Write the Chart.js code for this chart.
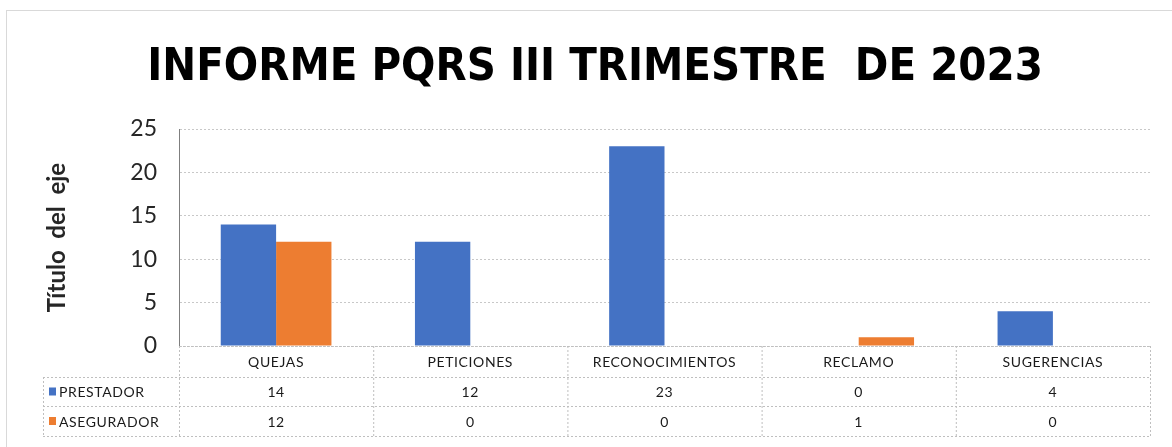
<!DOCTYPE html>
<html>
<head>
<meta charset="utf-8">
<script src="https://cdn.jsdelivr.net/npm/chart.js@4"></script>
<style>
  html, body { margin: 0; padding: 0; background: #fff; }
  #frame { position: absolute; left: 6px; top: 10px; width: 1180px; height: 450px; border: 1px solid #d9d9d9; }
  canvas { position: absolute; left: 0; top: 0; }
</style>
</head>
<body>
<div id="frame"></div>
<canvas id="pqrsChart" width="1172" height="447"></canvas>
<script>
// Data
const categories = ['QUEJAS', 'PETICIONES', 'RECONOCIMIENTOS', 'RECLAMO', 'SUGERENCIAS'];
const prestador = [14, 12, 23, 0, 4];
const asegurador = [12, 0, 0, 1, 0];
const yTicks = [0, 5, 10, 15, 20, 25];

const FONT = 'Lato, "DejaVu Sans", sans-serif';

// Excel-style data table under the plot
const dataTable = {
    id: 'dataTable',
    afterDraw(chart) {
        const ctx = chart.ctx;
        const area = chart.chartArea;
        const x = chart.scales.x;
        const catW = (area.right - area.left) / categories.length;
        const rowTop = [area.bottom, area.bottom + 31, area.bottom + 60, area.bottom + 90];
        const labelLeft = 43;

        ctx.save();
        ctx.strokeStyle = '#bfbfbf';
        ctx.lineWidth = 1;
        ctx.setLineDash([2, 2]);

        const hline = (x1, x2, y) => {
            ctx.beginPath();
            ctx.moveTo(x1, y + 0.5);
            ctx.lineTo(x2, y + 0.5);
            ctx.stroke();
        };
        const vline = (xx, y1, y2) => {
            ctx.beginPath();
            ctx.moveTo(xx + 0.5, y1);
            ctx.lineTo(xx + 0.5, y2);
            ctx.stroke();
        };
        hline(area.left, area.right, rowTop[0]);
        hline(labelLeft, area.right, rowTop[1]);
        hline(labelLeft, area.right, rowTop[2]);
        hline(labelLeft, area.right, rowTop[3]);
        vline(labelLeft, rowTop[1], rowTop[3]);
        for (let i = 0; i <= categories.length; i++) {
            vline(area.left + i * catW, rowTop[0], rowTop[3]);
        }
        ctx.setLineDash([]);

        ctx.fillStyle = '#1a1a1a';
        ctx.font = '14px ' + FONT;
        ctx.letterSpacing = '0.6px';
        ctx.textAlign = 'center';
        ctx.textBaseline = 'middle';
        categories.forEach((c, i) => {
            const cx = x.getPixelForValue(i);
            ctx.fillText(c, cx, (rowTop[0] + rowTop[1]) / 2 + 1);
            ctx.fillText(String(prestador[i]), cx, (rowTop[1] + rowTop[2]) / 2 + 1);
            ctx.fillText(String(asegurador[i]), cx, (rowTop[2] + rowTop[3]) / 2 + 1);
        });

        // series keys
        chart.data.datasets.forEach((ds, k) => {
            const cy = (rowTop[k + 1] + rowTop[k + 2]) / 2;
            ctx.fillStyle = ds.backgroundColor;
            ctx.fillRect(labelLeft + 6, cy - 4, 7, 8);
            ctx.fillStyle = '#1a1a1a';
            ctx.textAlign = 'left';
            ctx.fillText(ds.label, labelLeft + 16, cy + 1);
        });
        ctx.restore();
    }
};

const ctx = document.getElementById('pqrsChart').getContext('2d');
const pqrsChart = new Chart(ctx, {
    type: 'bar',
    data: {
        labels: categories,
        datasets: [{
            label: 'PRESTADOR',
            data: prestador,
            backgroundColor: '#4472c4',
            categoryPercentage: 0.57,
            barPercentage: 1.0
        }, {
            label: 'ASEGURADOR',
            data: asegurador,
            backgroundColor: '#ed7d31',
            categoryPercentage: 0.57,
            barPercentage: 1.0
        }]
    },
    options: {
        responsive: false,
        animation: false,
        layout: {
            padding: { top: 10, left: 40, right: 22, bottom: 101 }
        },
        plugins: {
            legend: { display: false },
            tooltip: { enabled: false },
            title: {
                display: true,
                text: 'INFORME PQRS III TRIMESTRE  DE 2023',
                color: '#000',
                font: { family: '"DejaVu Sans Condensed", "DejaVu Sans", sans-serif', size: 45, weight: 'bold' },
                padding: { top: 31, bottom: 34 }
            }
        },
        scales: {
            x: {
                display: false
            },
            y: {
                min: 0,
                max: 25,
                afterBuildTicks: axis => {
                    axis.ticks = yTicks.map(v => ({ value: v }));
                },
                afterFit: axis => {
                    axis.width = 139;
                },
                ticks: {
                    color: '#262626',
                    font: { family: FONT, size: 23 },
                    padding: 22
                },
                grid: {
                    color: '#c8c8c8',
                    drawTicks: false
                },
                border: {
                    display: true,
                    color: '#7f7f7f',
                    dash: [2, 2]
                },
                title: {
                    display: true,
                    text: 'Título  del  eje',
                    color: '#262626',
                    font: { family: FONT, size: 24, weight: 'bold' },
                    padding: { top: 3, bottom: 0 }
                }
            }
        }
    },
    plugins: [dataTable]
});
</script>
</body>
</html>
